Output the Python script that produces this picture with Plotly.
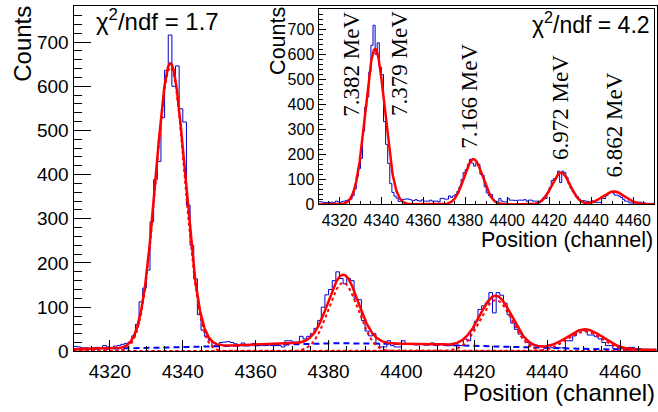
import numpy as np
import plotly.graph_objects as go

W, H = 658, 412

# ---- histogram: counts per channel, bins [4310, 4311), ..., [4469, 4470) ----
first_channel = 4310
counts = [
    11, 10, 8, 8, 7, 8, 9, 7, 13, 10,
    8, 12, 13, 16, 18, 21, 35, 61, 112, 143,
    184, 293, 389, 430, 529, 636, 716, 600, 646, 549,
    519, 331, 240, 164, 83, 48, 33, 25, 12, 13,
    20, 21, 22, 20, 17, 15, 19, 15, 13, 18,
    13, 13, 13, 17, 13, 13, 13, 10, 24, 24,
    21, 21, 34, 28, 34, 40, 52, 70, 100, 128,
    140, 160, 180, 165, 153, 165, 160, 120, 117, 70,
    46, 35, 40, 18, 10, 10, 24, 13, 10, 10,
    24, 17, 17, 16, 16, 17, 17, 17, 19, 13,
    17, 17, 13, 13, 13, 13, 13, 28, 24, 48,
    68, 95, 103, 109, 133, 87, 133, 127, 109, 83,
    64, 50, 39, 31, 20, 15, 15, 13, 12, 9,
    14, 8, 8, 8, 8, 24, 24, 35, 46, 48,
    46, 37, 37, 33, 28, 20, 13, 13, 6, 6,
    6, 6, 9, 9, 6, 6, 4, 4, 4, 4,
]

# ---- fit results, full spectrum (Gaussian peaks + background hump) ----
main_amp = [643, 155, 116, 45]
main_mean = [4336.6, 4384.0, 4425.9, 4450.4]
main_sigma = [4.0, 4.1, 4.4, 4.9]
bg_base, bg_height, bg_center, bg_width_lo, bg_width_hi = 3.0, 15.5, 4385.0, 35.0, 32.0
chi2_main = 1.7

# ---- fit results, inset (Gaussian peaks only) ----
inset_amp = [622, 181, 127, 52]
inset_mean = [4337.0, 4383.9, 4425.6, 4450.8]
inset_sigma = [4.6, 4.4, 4.4, 5.3]
chi2_inset = 4.2

# ---- level labels ----
level_labels = ["7.382 MeV", "7.379 MeV", "7.166 MeV", "6.972 MeV", "6.862 MeV"]
level_label_x = [4325.9, 4348.9, 4382.2, 4425.1, 4451.3]
level_label_y = [562, 562, 434, 389, 319]

x_lo, x_hi = 4310, 4470


def gauss(x, a, m, s):
    return a * np.exp(-0.5 * ((x - m) / s) ** 2)


def background(x):
    w = np.where(x < bg_center, bg_width_lo, bg_width_hi)
    return bg_base + bg_height * np.exp(-0.5 * ((x - bg_center) / w) ** 2)


xf = np.linspace(x_lo, x_hi, 1601)
edges = np.arange(first_channel, first_channel + len(counts) + 1)
hist_y = list(counts) + [counts[-1]]

HIST_COLOR = "#0000d0"
FIT_COLOR = "#ff0000"
BG_COLOR = "#0000ff"

fig = go.Figure()

# main panel
fig.add_trace(go.Scatter(x=edges, y=hist_y, mode="lines", line=dict(color=HIST_COLOR, width=1, shape="hv"),
                         xaxis="x", yaxis="y", hoverinfo="skip"))
fig.add_trace(go.Scatter(x=xf, y=background(xf), mode="lines",
                         line=dict(color=BG_COLOR, width=2, dash="6px,4px"), xaxis="x", yaxis="y"))
for a, m, s in zip(main_amp, main_mean, main_sigma):
    fig.add_trace(go.Scatter(x=xf, y=gauss(xf, a, m, s), mode="lines",
                             line=dict(color=FIT_COLOR, width=2, dash="3px,3px"), xaxis="x", yaxis="y"))
total_main = background(xf) + sum(gauss(xf, a, m, s) for a, m, s in zip(main_amp, main_mean, main_sigma))
fig.add_trace(go.Scatter(x=xf, y=total_main, mode="lines", line=dict(color=FIT_COLOR, width=2.5),
                         xaxis="x", yaxis="y"))

# inset panel
fig.add_trace(go.Scatter(x=edges, y=hist_y, mode="lines", line=dict(color=HIST_COLOR, width=1, shape="hv"),
                         xaxis="x2", yaxis="y2"))
total_inset = sum(gauss(xf, a, m, s) for a, m, s in zip(inset_amp, inset_mean, inset_sigma))
fig.add_trace(go.Scatter(x=xf, y=total_inset, mode="lines", line=dict(color=FIT_COLOR, width=2.5),
                         xaxis="x2", yaxis="y2"))


def px(xp):
    return xp / W


def py(yp):
    return 1 - yp / H


SANS = "Liberation Sans, Arial, sans-serif"
SERIF = "Liberation Serif, Times New Roman, serif"

axis_common = dict(showline=True, linecolor="black", linewidth=1, mirror=True, showgrid=False,
                   zeroline=False, ticks="inside", tickcolor="black", tickwidth=1)

fig.update_layout(
    width=W, height=H, margin=dict(l=0, r=0, t=0, b=0),
    paper_bgcolor="white", plot_bgcolor="white", showlegend=False,
    font=dict(family=SANS, color="black"),
    xaxis=dict(domain=[px(73.5), px(656.5)], range=[x_lo, x_hi], anchor="y",
               tickmode="linear", tick0=4320, dtick=20, ticklen=11, tickfont=dict(size=19),
               ticklabelstandoff=3,
               minor=dict(ticks="inside", ticklen=5.5, dtick=5, tick0=4310, tickcolor="black", showgrid=False),
               **axis_common),
    yaxis=dict(domain=[py(361), py(6)], range=[0, 782], anchor="x",
               tickmode="linear", tick0=0, dtick=100, ticklen=17, tickfont=dict(size=19),
               minor=dict(ticks="inside", ticklen=8.5, dtick=20, tick0=0, tickcolor="black", showgrid=False),
               **axis_common),
    xaxis2=dict(domain=[px(318.5), px(654)], range=[x_lo, x_hi], anchor="y2",
                tickmode="linear", tick0=4320, dtick=20, ticklen=7, tickfont=dict(size=16),
                ticklabelstandoff=1,
                minor=dict(ticks="inside", ticklen=3.5, dtick=5, tick0=4310, tickcolor="black", showgrid=False),
                **axis_common),
    yaxis2=dict(domain=[py(210), py(9.3)], range=[0, 781], anchor="x2",
                tickmode="linear", tick0=0, dtick=100, ticklen=7, tickfont=dict(size=16),
                minor=dict(ticks="inside", ticklen=4, dtick=20, tick0=0, tickcolor="black", showgrid=False),
                **axis_common),
)

ann = []
# axis titles
ann.append(dict(text="Counts", x=px(23), y=py(45), xref="paper", yref="paper", textangle=-90,
                showarrow=False, xanchor="center", yanchor="middle", font=dict(size=24)))
ann.append(dict(text="Position (channel)", x=px(657), y=py(419), xref="paper", yref="paper",
                showarrow=False, xanchor="right", yanchor="bottom", font=dict(size=24)))
ann.append(dict(text="Counts", x=px(278), y=py(42), xref="paper", yref="paper", textangle=-90,
                showarrow=False, xanchor="center", yanchor="middle", font=dict(size=21.5)))
ann.append(dict(text="Position (channel)", x=px(655), y=py(247), xref="paper", yref="paper",
                showarrow=False, xanchor="right", yanchor="middle", font=dict(size=21.5)))
# fit quality
ann.append(dict(text=f"χ<sup>2</sup>/ndf = {chi2_main}", x=px(94), y=py(21), xref="paper", yref="paper",
                showarrow=False, xanchor="left", yanchor="middle", font=dict(size=24)))
ann.append(dict(text=f"χ<sup>2</sup>/ndf = {chi2_inset}", x=px(652), y=py(24), xref="paper", yref="paper",
                showarrow=False, xanchor="right", yanchor="middle", font=dict(size=23)))
# level energies in the inset
for t, lx, ly in zip(level_labels, level_label_x, level_label_y):
    ann.append(dict(text=t, x=lx, y=ly, xref="x2", yref="y2", textangle=-90, showarrow=False,
                    xanchor="center", yanchor="middle", font=dict(family=SERIF, size=23)))
fig.update_layout(annotations=ann)

fig.write_html("out.html")
